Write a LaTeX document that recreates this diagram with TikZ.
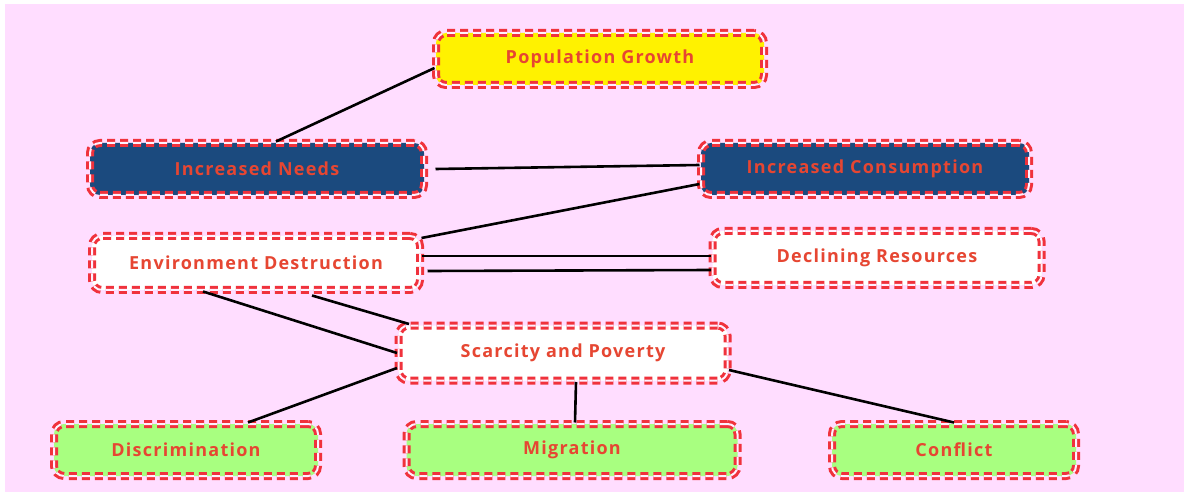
\documentclass[tikz,border=0pt]{standalone}
\usepackage{fontspec}
\setmainfont{Open Sans}[LetterSpace=7]
\definecolor{pinkbg}{RGB}{255,221,255}
\definecolor{boxred}{RGB}{240,50,60}
\definecolor{txtred}{RGB}{230,70,50}
\definecolor{navy}{RGB}{27,74,126}
\definecolor{lgreen}{RGB}{168,255,128}
\tikzset{
  causebox/.style={rectangle, rounded corners=10pt, draw=boxred,
    line width=3pt, double distance=2pt, double=white!60!pinkbg,
    dash pattern=on 8pt off 5pt, minimum height=52pt,
    text=txtred, font=\fontsize{18}{20}\selectfont\bfseries},
  link/.style={line width=2.6pt, black}
}
\begin{document}
\begin{tikzpicture}[x=1pt, y=-1pt]
    \useasboundingbox (0,0) rectangle (1184,497);
    \fill [pinkbg] (5,4) rectangle (1184,492);

    \node [causebox, fill=yellow, minimum width=328pt] (grow) at (600,59)
        {Population Growth};
    \node [causebox, fill=navy, minimum width=334pt] (needs) at (257,169)
        {Increased Needs};
    \node [causebox, fill=navy, minimum width=328pt] (cons) at (865,169)
        {Increased Consumption};
    \node [causebox, fill=white, minimum width=328pt, minimum height=54pt] (env) at (256,263)
        {Environment Destruction};
    \node [causebox, fill=white, minimum width=329pt, minimum height=54pt] (decl) at (877,258)
        {Declining Resources};
    \node [causebox, fill=white, minimum width=329pt, minimum height=55pt] (scar) at (563,353)
        {Scarcity and Poverty};
    \node [causebox, fill=lgreen, minimum width=264pt] (disc) at (186,450)
        {Discrimination};
    \node [causebox, fill=lgreen, minimum width=331pt] (migr) at (572,450)
        {Migration};
    \node [causebox, fill=lgreen, minimum width=244pt] (confl) at (954,450)
        {Conflict};

    % links
    \draw [link] ([yshift=-9pt]grow.west) -- ([xshift=19pt]needs.north);
    \draw [link] ([xshift=10pt]needs.east) -- ([yshift=4pt]cons.west);
    \draw [link] ([yshift=25pt]env.east) -- ([yshift=-15pt]cons.west);
    \draw [link] ([yshift=7pt]env.east) -- ([yshift=2pt]decl.west);
    \draw [link] ([xshift=6pt, yshift=-8pt]env.east) -- ([yshift=-12pt]decl.west);
    \draw [link] ([xshift=-53pt]env.south) -- (scar.west);
    \draw [link] ([xshift=56pt, yshift=-4pt]env.south) -- ([xshift=12pt]scar.north west);
    \draw [link] ([xshift=62pt]disc.north) -- ([yshift=-15pt]scar.west);
    \draw [link] ([xshift=13pt]scar.south) -- ([xshift=3pt]migr.north);
    \draw [link] ([yshift=-17pt]scar.east) -- (confl.north);
\end{tikzpicture}
\end{document}
